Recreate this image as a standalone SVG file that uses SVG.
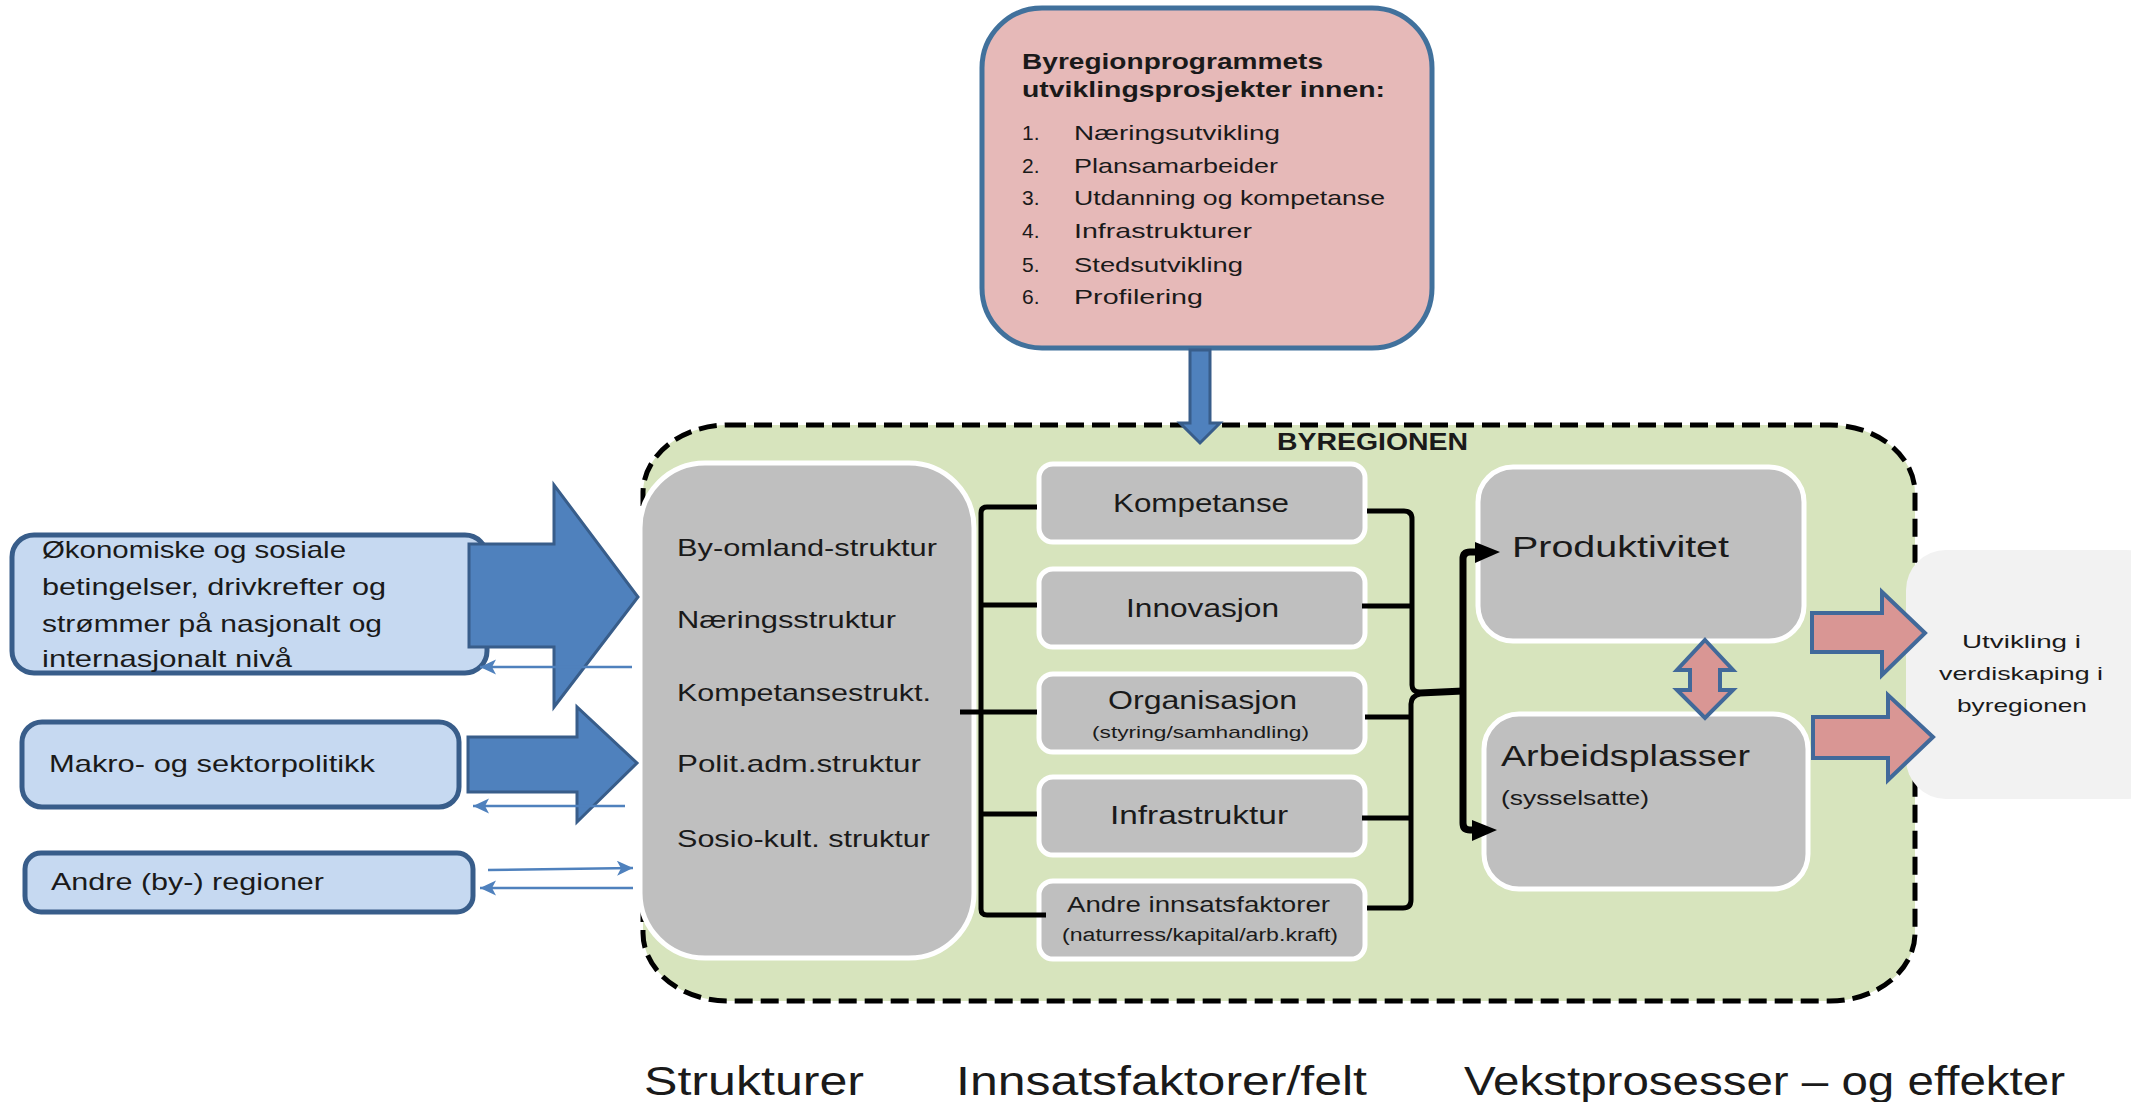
<svg xmlns="http://www.w3.org/2000/svg" width="2131" height="1102" viewBox="0 0 2131 1102">
<style>
text{font-family:"Liberation Sans",Arial,sans-serif;fill:#1a1a1a;}
.b{font-weight:bold;}
.blue{fill:#c6d9f1;stroke:#385d8a;stroke-width:5;}
.grey{fill:#bfbfbf;stroke:#ffffff;stroke-width:5;}
.big{fill:#4f81bd;stroke:#385d8a;stroke-width:3;}
.pinkar{fill:#d99694;stroke:#41699a;stroke-width:4;stroke-linejoin:miter;}
.thin{stroke:#4f81bd;stroke-width:2.5;fill:none;}
.blk{stroke:#000;stroke-width:5;fill:none;stroke-linejoin:round;}
</style>
<defs>
<marker id="ah" markerUnits="userSpaceOnUse" markerWidth="18" markerHeight="16" refX="16" refY="7.5" orient="auto">
<path d="M0,0 L16,7.5 L0,15 L4,7.5 z" fill="#4f81bd"/>
</marker>
</defs>
<rect width="2131" height="1102" fill="#ffffff"/>

<g id="byregionen">
<rect x="643" y="425" width="1272" height="576" rx="85" ry="68" fill="#d7e4bd" stroke="#000" stroke-width="5" stroke-dasharray="18 8"/>
<text x="1277" y="450" class="b" font-size="24" textLength="191" lengthAdjust="spacingAndGlyphs">BYREGIONEN</text>
</g>

<g id="utvikling">
<rect x="1906" y="550" width="260" height="249" rx="40" fill="#f2f2f2"/>
<text x="1962" y="648" font-size="19" textLength="119" lengthAdjust="spacingAndGlyphs">Utvikling i</text>
<text x="1939" y="680" font-size="19" textLength="164" lengthAdjust="spacingAndGlyphs">verdiskaping i</text>
<text x="1957" y="712" font-size="19" textLength="130" lengthAdjust="spacingAndGlyphs">byregionen</text>
</g>

<g id="program">
<rect x="982" y="8" width="450" height="340" rx="60" fill="#e6b9b8" stroke="#41719c" stroke-width="5"/>
<text x="1022" y="69" class="b" font-size="22" textLength="301" lengthAdjust="spacingAndGlyphs">Byregionprogrammets</text>
<text x="1022" y="97" class="b" font-size="22" textLength="363" lengthAdjust="spacingAndGlyphs">utviklingsprosjekter innen:</text>
<g font-size="21">
<text x="1022" y="140">1.</text><text x="1074" y="140" textLength="206" lengthAdjust="spacingAndGlyphs">Næringsutvikling</text>
<text x="1022" y="173">2.</text><text x="1074" y="173" textLength="204" lengthAdjust="spacingAndGlyphs">Plansamarbeider</text>
<text x="1022" y="205">3.</text><text x="1074" y="205" textLength="311" lengthAdjust="spacingAndGlyphs">Utdanning og kompetanse</text>
<text x="1022" y="238">4.</text><text x="1074" y="238" textLength="178" lengthAdjust="spacingAndGlyphs">Infrastrukturer</text>
<text x="1022" y="272">5.</text><text x="1074" y="272" textLength="169" lengthAdjust="spacingAndGlyphs">Stedsutvikling</text>
<text x="1022" y="304">6.</text><text x="1074" y="304" textLength="129" lengthAdjust="spacingAndGlyphs">Profilering</text>
</g>
</g>

<g id="okonomiske">
<rect x="12" y="535" width="475" height="138" rx="22" class="blue"/>
<g font-size="24">
<text x="42" y="558" textLength="304" lengthAdjust="spacingAndGlyphs">Økonomiske og sosiale</text>
<text x="42" y="595" textLength="344" lengthAdjust="spacingAndGlyphs">betingelser, drivkrefter og</text>
<text x="42" y="632" textLength="340" lengthAdjust="spacingAndGlyphs">strømmer på nasjonalt og</text>
<text x="42" y="667" textLength="250" lengthAdjust="spacingAndGlyphs">internasjonalt nivå</text>
</g>
</g>

<g id="makro">
<rect x="22" y="722" width="437" height="85" rx="20" class="blue"/>
<text x="49" y="772" font-size="24" textLength="326" lengthAdjust="spacingAndGlyphs">Makro- og sektorpolitikk</text>
</g>

<g id="andre-regioner">
<rect x="25" y="853" width="448" height="59" rx="16" class="blue"/>
<text x="51" y="890" font-size="24" textLength="273" lengthAdjust="spacingAndGlyphs">Andre (by-) regioner</text>
</g>

<g id="strukturer">
<rect x="640" y="463" width="334" height="495" rx="65" class="grey"/>
<g font-size="24">
<text x="677" y="556" textLength="260" lengthAdjust="spacingAndGlyphs">By-omland-struktur</text>
<text x="677" y="628" textLength="219" lengthAdjust="spacingAndGlyphs">Næringsstruktur</text>
<text x="677" y="701" textLength="254" lengthAdjust="spacingAndGlyphs">Kompetansestrukt.</text>
<text x="677" y="772" textLength="244" lengthAdjust="spacingAndGlyphs">Polit.adm.struktur</text>
<text x="677" y="847" textLength="253" lengthAdjust="spacingAndGlyphs">Sosio-kult. struktur</text>
</g>
</g>

<g id="kompetanse">
<rect x="1039" y="464" width="326" height="78" rx="14" class="grey"/>
<text x="1113" y="512" font-size="26" textLength="176" lengthAdjust="spacingAndGlyphs">Kompetanse</text>
</g>
<g id="innovasjon">
<rect x="1039" y="569" width="326" height="78" rx="14" class="grey"/>
<text x="1126" y="617" font-size="26" textLength="153" lengthAdjust="spacingAndGlyphs">Innovasjon</text>
</g>
<g id="organisasjon">
<rect x="1039" y="674" width="326" height="78" rx="14" class="grey"/>
<text x="1108" y="709" font-size="26" textLength="189" lengthAdjust="spacingAndGlyphs">Organisasjon</text>
<text x="1092" y="738" font-size="17" textLength="217" lengthAdjust="spacingAndGlyphs">(styring/samhandling)</text>
</g>
<g id="infrastruktur">
<rect x="1039" y="777" width="326" height="78" rx="14" class="grey"/>
<text x="1110" y="824" font-size="26" textLength="178" lengthAdjust="spacingAndGlyphs">Infrastruktur</text>
</g>
<g id="andre-innsats">
<rect x="1039" y="881" width="326" height="78" rx="14" class="grey"/>
<text x="1067" y="912" font-size="22" textLength="263" lengthAdjust="spacingAndGlyphs">Andre innsatsfaktorer</text>
<text x="1062" y="941" font-size="18" textLength="276" lengthAdjust="spacingAndGlyphs">(naturress/kapital/arb.kraft)</text>
</g>

<g id="produktivitet">
<rect x="1478" y="467" width="326" height="174" rx="35" class="grey"/>
<text x="1512" y="557" font-size="30" textLength="217" lengthAdjust="spacingAndGlyphs">Produktivitet</text>
</g>
<g id="arbeidsplasser">
<rect x="1484" y="714" width="324" height="175" rx="35" class="grey"/>
<text x="1501" y="766" font-size="30" textLength="249" lengthAdjust="spacingAndGlyphs">Arbeidsplasser</text>
<text x="1501" y="805" font-size="20" textLength="148" lengthAdjust="spacingAndGlyphs">(sysselsatte)</text>
</g>

<g id="connectors">
<polygon class="big" points="1190,350 1210,350 1210,423 1220,423 1200,443 1180,423 1190,423"/>
<polygon class="big" points="469,544 554,544 554,485 638,597 554,707 554,647 469,647"/>
<polygon class="big" points="468,737 577,737 577,707 637,763 577,822 577,792 468,792"/>
<line class="thin" x1="632" y1="667" x2="480" y2="667" marker-end="url(#ah)"/>
<line class="thin" x1="625" y1="806" x2="473" y2="806" marker-end="url(#ah)"/>
<line class="thin" x1="488" y1="870" x2="633" y2="868" marker-end="url(#ah)"/>
<line class="thin" x1="633" y1="888" x2="480" y2="888" marker-end="url(#ah)"/>

<path class="blk" d="M1037,507 L987,507 Q981,507 981,513 L981,909 Q981,915 987,915 L1046,915"/>
<path class="blk" d="M981,605 H1037 M960,712 H1037 M981,814 H1037"/>
<path class="blk" d="M1367,511 L1404,511 Q1412,511 1412,519 L1412,685 Q1412,692 1420,692 L1463,690"/>
<path class="blk" d="M1463,692 L1420,694 Q1411,696 1411,704 L1411,900 Q1411,908 1403,908 L1367,908"/>
<path class="blk" d="M1362,606 H1412 M1365,717 H1411 M1362,818 H1411"/>
<path d="M1478,552 L1470,552 Q1463,552 1463,559 L1463,823 Q1463,830 1470,830 L1475,830" stroke="#000" stroke-width="7" fill="none"/>
<polygon points="1475,542 1500,552 1475,563" fill="#000"/>
<polygon points="1472,820 1497,830 1472,841" fill="#000"/>

<polygon class="pinkar" points="1705,640 1733,670 1720,670 1720,690 1733,690 1705,718 1677,690 1690,690 1690,670 1677,670"/>
<polygon class="pinkar" points="1812,613 1882,613 1882,592 1925,633 1882,675 1882,652 1812,652"/>
<polygon class="pinkar" points="1813,717 1888,717 1888,695 1933,737 1888,780 1888,758 1813,758"/>
</g>

<g id="labels" font-size="40">
<text x="644" y="1095" textLength="220" lengthAdjust="spacingAndGlyphs">Strukturer</text>
<text x="956" y="1095" textLength="411" lengthAdjust="spacingAndGlyphs">Innsatsfaktorer/felt</text>
<text x="1464" y="1095" textLength="601" lengthAdjust="spacingAndGlyphs">Vekstprosesser – og effekter</text>
</g>
</svg>
